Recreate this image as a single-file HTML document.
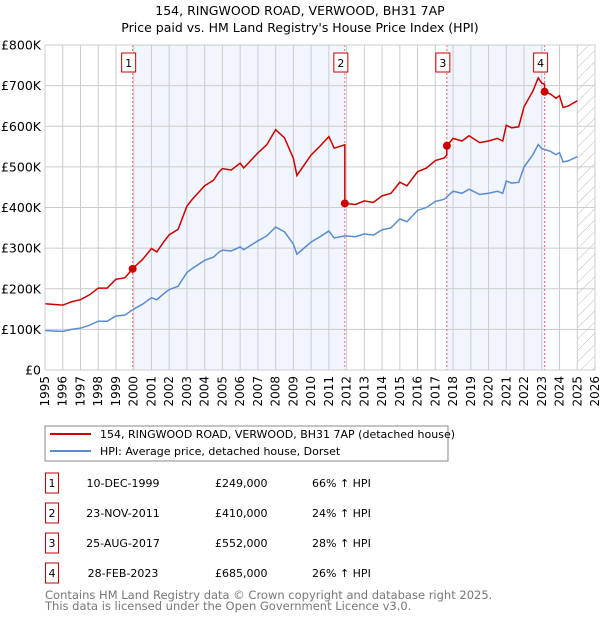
<!DOCTYPE html>
<html><head><meta charset="utf-8"><style>
body{margin:0;background:#fff;font-family:"DejaVu Sans","Liberation Sans",sans-serif;}
#wrap{position:relative;width:600px;height:620px;overflow:hidden;}
</style></head><body><div id="wrap">
<svg id="svg" width="600" height="620" xmlns="http://www.w3.org/2000/svg" font-family="DejaVu Sans, Liberation Sans, sans-serif">
<text x="300" y="15" text-anchor="middle" font-size="12.5">154, RINGWOOD ROAD, VERWOOD, BH31 7AP</text>
<text x="300" y="32" text-anchor="middle" font-size="12.5">Price paid vs. HM Land Registry's House Price Index (HPI)</text>
<defs><pattern id="hatch" width="8" height="8" patternUnits="userSpaceOnUse" patternTransform="rotate(45)"><line x1="0" y1="0" x2="0" y2="8" stroke="#bbb" stroke-width="1"/></pattern></defs>
<g id="plot"></g>
<rect x="45" y="426" width="403" height="35" fill="#fff" stroke="#888" stroke-width="1"/>
<line x1="50" y1="434" x2="91" y2="434" stroke="#cc0000" stroke-width="2"/>
<text x="100" y="438" font-size="11">154, RINGWOOD ROAD, VERWOOD, BH31 7AP (detached house)</text>
<line x1="50" y1="451" x2="91" y2="451" stroke="#5b8bd0" stroke-width="2"/>
<text x="100" y="455" font-size="11">HPI: Average price, detached house, Dorset</text>
<g id="table" font-size="11"></g>
<text x="45" y="599" font-size="11.5" fill="#777">Contains HM Land Registry data © Crown copyright and database right 2025.</text>
<text x="45" y="610" font-size="11.5" fill="#777">This data is licensed under the Open Government Licence v3.0.</text>
</svg></div>
<script>
const hpiYears=[1995,1996,1996.5,1997,1997.5,1998,1998.5,1999,1999.5,2000,2000.5,2001,2001.3,2001.7,2002,2002.5,2003,2003.3,2004,2004.5,2004.8,2005,2005.5,2006,2006.2,2007,2007.5,2008,2008.5,2009,2009.2,2009.6,2010,2010.5,2011,2011.3,2011.9,2012.5,2013,2013.5,2014,2014.5,2015,2015.4,2016,2016.5,2017,2017.5,2018,2018.5,2018.9,2019.5,2020,2020.5,2020.8,2021,2021.3,2021.7,2022,2022.5,2022.8,2023,2023.5,2023.8,2024,2024.2,2024.5,2025];
const hpiValues=[97,95,100,103,110,120,120,133,135,150,162,178,173,188,198,206,240,250,270,278,290,295,293,303,296,318,330,352,340,310,285,300,315,328,342,325,330,328,335,332,345,350,372,365,393,400,415,420,440,435,445,432,435,440,435,465,460,462,500,530,555,545,538,530,535,512,515,525];
const saleDates=[1999.94,2011.9,2017.65,2023.16];
const salePrices=[249,410,552,685];
const saleLabels=["1","2","3","4"];
const saleDateText=["10-DEC-1999","23-NOV-2011","25-AUG-2017","28-FEB-2023"];
const salePriceText=["£249,000","£410,000","£552,000","£685,000"];
const salePctText=["66% ↑ HPI","24% ↑ HPI","28% ↑ HPI","26% ↑ HPI"];
const yTicks=[0,100,200,300,400,500,600,700,800];
const yTickLabels=["£0","£100K","£200K","£300K","£400K","£500K","£600K","£700K","£800K"];
const xTicks=[1995,1996,1997,1998,1999,2000,2001,2002,2003,2004,2005,2006,2007,2008,2009,2010,2011,2012,2013,2014,2015,2016,2017,2018,2019,2020,2021,2022,2023,2024,2025,2026];

const NS="http://www.w3.org/2000/svg";
const X0=45,X1=595,Y0=370,Y1=45;
const sx=v=>X0+(v-1995)/(2026-1995)*(X1-X0);
const sy=v=>Y0-v/800*(Y0-Y1);
function mk(tag,at,parent){const e=document.createElementNS(NS,tag);for(const k in at)e.setAttribute(k,at[k]);parent.appendChild(e);return e;}
const plot=document.getElementById('plot');
function hpiAt(t){for(let i=0;i<hpiYears.length-1;i++){if(t<=hpiYears[i+1]){const f=(t-hpiYears[i])/(hpiYears[i+1]-hpiYears[i]);return hpiValues[i]+f*(hpiValues[i+1]-hpiValues[i]);}}return hpiValues[hpiValues.length-1];}
for(let i=0;i<saleDates.length;i+=2){
  const r=mk('rect',{x:sx(saleDates[i]),y:Y1,width:sx(saleDates[i+1])-sx(saleDates[i]),height:Y0-Y1,fill:'#eef3fc',opacity:0.8},plot);
  
  
}
const hr=mk('rect',{x:sx(2025),y:Y1,width:X1-sx(2025),height:Y0-Y1,fill:'url(#hatch)'},plot);


xTicks.forEach((t,i)=>{
  const l=mk('line',{x1:sx(t),y1:Y1,x2:sx(t),y2:Y0,stroke:'#ccc','stroke-width':1},plot);
  
  
  const x=sx(t);
  const tx=mk('text',{x:x+4,y:Y0+6,'font-size':12,'text-anchor':'end',transform:`rotate(-90 ${x+4} ${Y0+6})`},plot);
  tx.textContent=t;
  
  
});
yTicks.forEach((v,i)=>{
  const l=mk('line',{x1:X0,y1:sy(v),x2:X1,y2:sy(v),stroke:'#ccc','stroke-width':1},plot);
  
  
  const tx=mk('text',{x:X0-4,y:sy(v)+4.5,'font-size':12.5,'text-anchor':'end'},plot);
  tx.textContent=yTickLabels[i];
  
  
});
saleDates.forEach((d,i)=>{
  const l=mk('line',{x1:sx(d),y1:Y1,x2:sx(d),y2:Y0,stroke:'#e66','stroke-width':1,'stroke-dasharray':'2,2'},plot);
  
  
});
const hp=mk('polyline',{points:hpiYears.map((t,i)=>sx(t)+','+sy(hpiValues[i])).join(' '),fill:'none',stroke:'#5b8bd0','stroke-width':1.5},plot);


const pts=[];
function factorAt(t){let f=salePrices[0]/hpiAt(saleDates[0]);for(let i=0;i<saleDates.length;i++){if(t>=saleDates[i])f=salePrices[i]/hpiAt(saleDates[i]);}return f;}
const times=hpiYears.concat(saleDates,saleDates.map(d=>d-0.001)).sort((a,b)=>a-b);
times.forEach(t=>{pts.push(sx(t)+','+sy(hpiAt(t)*factorAt(t)));});
const pl=mk('polyline',{points:pts.join(' '),fill:'none',stroke:'#cc0000','stroke-width':1.5},plot);


saleDates.forEach((d,i)=>{
  const c=mk('circle',{cx:sx(d),cy:sy(salePrices[i]),r:4,fill:'#cc0000'},plot);
  
  
  const b=mk('rect',{x:sx(d)-11,y:53,width:14,height:19,fill:'#fff',stroke:'#cc0000'},plot);
  
  
  const t=mk('text',{x:sx(d)-4,y:67,'font-size':11,'text-anchor':'middle'},plot);
  t.textContent=saleLabels[i];
  
  
});
const ax=mk('rect',{x:X0,y:Y1,width:X1-X0,height:Y0-Y1,fill:'none',stroke:'#ccc'},plot);


const tb=document.getElementById('table');
const rowY=[483,513,543,573];
saleLabels.forEach((lab,i)=>{
  const y=rowY[i];
  const b=mk('rect',{x:45.5,y:y-10,width:13,height:20,fill:'#fff',stroke:'#cc0000'},tb);
  
  
  const cells=[[52,lab,'middle'],[123,saleDateText[i],'middle'],[215,salePriceText[i],'start'],[312,salePctText[i],'start']];
  cells.forEach((c,j)=>{
    const t=mk('text',{x:c[0],y:y+4,'text-anchor':c[2]},tb);
    t.textContent=c[1];
    
    
  });
});
</script></body></html>
